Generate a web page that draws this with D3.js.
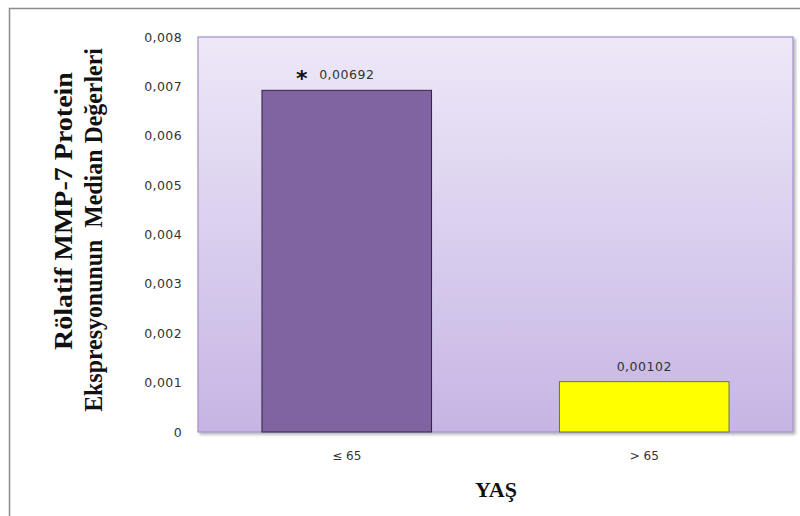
<!DOCTYPE html>
<html><head><meta charset="utf-8">
<script src="https://cdn.jsdelivr.net/npm/d3@7"></script>
<style>body{margin:0;background:#fff}svg{display:block}</style>
</head><body>
<svg id="c" width="800" height="516"></svg>
<script>
const categories = ["≤ 65", "> 65"];
const values = [0.00692, 0.00102];
const valueLabels = ["0,00692", "0,00102"];
const markers = ["*", ""];
const barColors = ["#8064a2", "#ffff00"];
const barStrokes = ["#2e2440", "#6b6b6b"];
const yTicks = [0, 0.001, 0.002, 0.003, 0.004, 0.005, 0.006, 0.007, 0.008];
const yTickLabels = ["0", "0,001", "0,002", "0,003", "0,004", "0,005", "0,006", "0,007", "0,008"];
const yTitle = ["Rölatif MMP-7 Protein", "Ekspresyonunun  Median Değerleri"];
const xTitle = "YAŞ";

const svg = d3.select("#c");
const m = {l:198, r:793, t:37, b:432};

// outer chart border
svg.append("rect").attr("x",9.5).attr("y",8.5).attr("width",820).attr("height",540)
  .attr("fill","#fff").attr("stroke","#8c8c8c").attr("stroke-width",1.5);

const defs = svg.append("defs");
const g = defs.append("linearGradient").attr("id","bg").attr("x1",0).attr("y1",0).attr("x2",0).attr("y2",1);
g.append("stop").attr("offset","0%").attr("stop-color","#eee8f8");
g.append("stop").attr("offset","100%").attr("stop-color","#c6b5e4");
const f = defs.append("filter").attr("id","sh").attr("x","-5%").attr("y","-5%").attr("width","115%").attr("height","115%");
f.append("feDropShadow").attr("dx",2).attr("dy",2).attr("stdDeviation",1.5).attr("flood-color","#000").attr("flood-opacity",0.3);

const x = d3.scaleBand().domain(categories).range([m.l, m.r]).paddingInner(0.43).paddingOuter(0.215);
const y = d3.scaleLinear().domain([0, 0.008]).range([m.b, m.t]);

svg.append("rect").attr("x",m.l).attr("y",m.t).attr("width",m.r-m.l).attr("height",m.b-m.t)
  .attr("fill","url(#bg)").attr("stroke","#a48fc8").attr("stroke-width",1.2).attr("filter","url(#sh)");

// y axis
const yAxis = d3.axisLeft(y).tickValues(yTicks).tickFormat((d,i)=>yTickLabels[i]).tickSize(0).tickPadding(16);
const ya = svg.append("g").attr("transform",`translate(${m.l},0)`).call(yAxis);
ya.select(".domain").remove();
ya.selectAll("text").attr("font-family","DejaVu Sans, Verdana, sans-serif").attr("font-size",12.5).attr("fill","#333").attr("letter-spacing",0.4);

// x axis
const xAxis = d3.axisBottom(x).tickSize(0).tickPadding(19);
const xa = svg.append("g").attr("transform",`translate(0,${m.b})`).call(xAxis);
xa.select(".domain").remove();
xa.selectAll("text").attr("font-family","DejaVu Sans, Verdana, sans-serif").attr("font-size",12).attr("fill","#333");

// bars
svg.selectAll(".bar").data(values).enter().append("rect")
  .attr("x",(d,i)=>x(categories[i])).attr("y",d=>y(d))
  .attr("width",x.bandwidth()).attr("height",d=>y(0)-y(d))
  .attr("fill",(d,i)=>barColors[i]).attr("stroke",(d,i)=>barStrokes[i]).attr("stroke-width",1);

// value labels
svg.selectAll(".vl").data(values).enter().append("text")
  .attr("x",(d,i)=>x(categories[i])+x.bandwidth()/2).attr("y",d=>y(d)-11)
  .attr("text-anchor","middle").attr("font-family","DejaVu Sans, Verdana, sans-serif")
  .attr("font-size",12.5).attr("fill","#333").attr("letter-spacing",0.5)
  .text((d,i)=>valueLabels[i]);
svg.selectAll(".mk").data(values).enter().append("text")
  .attr("x",(d,i)=>x(categories[i])+x.bandwidth()/2-45).attr("y",d=>y(d)-4)
  .attr("text-anchor","middle").attr("font-family","DejaVu Sans, sans-serif")
  .attr("font-size",22).attr("font-weight","bold").attr("fill","#111")
  .text((d,i)=>markers[i]);

// titles
const ytPos = [[72, 211, 278], [102, 230, 364]];
yTitle.forEach((t,i)=>{
  const txt = svg.append("text")
    .attr("font-family","Liberation Serif, Times New Roman, serif").attr("font-weight","bold")
    .attr("font-size",26).attr("fill","#111").attr("text-anchor","middle")
    .style("white-space","pre").text(t);
  const w = txt.node().getComputedTextLength() || ytPos[i][2];
  const s = ytPos[i][2] / w;
  txt.attr("transform",`translate(${ytPos[i][0]},${ytPos[i][1]}) rotate(-90) scale(${s},1)`);
});
svg.append("text").attr("x",496).attr("y",497).attr("text-anchor","middle")
  .attr("font-family","Liberation Serif, Times New Roman, serif").attr("font-weight","bold")
  .attr("font-size",22).attr("fill","#111").text(xTitle);
</script>
</body></html>
